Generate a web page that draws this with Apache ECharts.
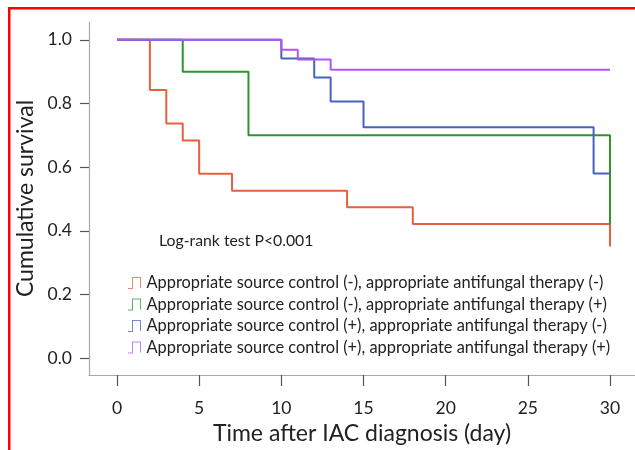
<!DOCTYPE html>
<html><head><meta charset="utf-8">
<script src="https://cdn.jsdelivr.net/npm/echarts@6/dist/echarts.min.js"></script>
<style>html,body{margin:0;padding:0;background:#fff}#c{width:635px;height:450px}</style>
</head><body><div id="c"></div>
<script>
const seriesNames = [
  'Appropriate source control (-), appropriate antifungal therapy (-)',
  'Appropriate source control (-), appropriate antifungal therapy (+)',
  'Appropriate source control (+), appropriate antifungal therapy (-)',
  'Appropriate source control (+), appropriate antifungal therapy (+)'
];
const colors = ['#E5603F', '#2E952E', '#4663C0', '#B255F2'];
// [day, cumulative survival]
const redData = [[0,1],[2,0.842],[3,0.737],[4,0.684],[5,0.579],[7,0.526],[14,0.474],[18,0.421],[30,0.351]];
const greenData = [[0,1],[4,0.9],[8,0.7],[30,0.42]];
const blueData = [[0,1],[10,0.941],[12,0.882],[13,0.806],[15,0.725],[29,0.58],[30,0.58]];
const purpleData = [[0,1],[10,0.969],[11,0.938],[13,0.906],[30,0.906]];
const xTicks = [0,5,10,15,20,25,30];
const yTicks = [0,0.2,0.4,0.6,0.8,1.0];
const annotation = 'Log-rank test P<0.001';
const xTitle = 'Time after IAC diagnosis (day)';
const yTitle = 'Cumulative survival';

const FONT = 'Lato';
const allData = [redData, greenData, blueData, purpleData];
const chart = echarts.init(document.getElementById('c'), null, {renderer:'canvas'});
const stepIcon = 'path://M0,11 L4,11 L4,0 L13,0 L13,11 L12,11 L12,1 L5,1 L5,12 L0,12 Z';
chart.setOption({
  animation:false,
  color: colors,
  grid:{left:89, top:22, right:0, bottom:73, containLabel:false},
  title:{text:annotation, left:159, top:233, padding:0, textStyle:{fontFamily:FONT, fontSize:15.8, fontWeight:'normal', color:'#222'}},
  legend:{
    orient:'vertical', left:123, top:270, itemWidth:18, itemHeight:12, itemGap:5.5,
    icon: stepIcon,
    textStyle:{fontFamily:FONT, fontSize:16.4, color:'#222', padding:[0,0,0,-2]},
    data: seriesNames.map((n,i)=>({name:n, icon:stepIcon, itemStyle:{color:colors[i], opacity:0.75}}))
  },
  xAxis:{
    type:'value', min:-1.704, max:31.52,
    name:xTitle, nameLocation:'middle', nameGap:47,
    nameTextStyle:{fontFamily:FONT, fontSize:23, color:'#222'},
    axisLine:{show:true, onZero:false, lineStyle:{color:'#a8a8a8', width:1.2}},
    axisTick:{show:true, length:11, customValues:xTicks, lineStyle:{color:'#555', width:1.2}},
    axisLabel:{customValues:xTicks, margin:24, fontFamily:FONT, fontSize:17.5, color:'#222'},
    splitLine:{show:false}
  },
  yAxis:{
    type:'value', min:-0.053, max:1.056,
    name:yTitle, nameLocation:'middle', nameGap:47.5,
    nameTextStyle:{fontFamily:FONT, fontSize:23, color:'#222'},
    axisLine:{show:true, onZero:false, lineStyle:{color:'#a8a8a8', width:1.2}},
    axisTick:{show:true, length:9, customValues:yTicks, lineStyle:{color:'#555', width:1.2}},
    axisLabel:{customValues:yTicks, margin:17, fontFamily:FONT, fontSize:17.5, color:'#222', formatter:v=>v.toFixed(1)},
    splitLine:{show:false}
  },
  series: allData.map((d,i)=>({
    name:seriesNames[i], type:'line', step:'end', data:d, showSymbol:false, symbol:'none',
    lineStyle:{color:colors[i], width:2}, itemStyle:{color:colors[i]}, z:2+i
  })),
  graphic:[{type:'rect', shape:{x:9.25, y:8.25, width:700, height:500}, style:{fill:null, stroke:'#ff0000', lineWidth:2.5}, silent:true, z:100}]
});
</script></body></html>
